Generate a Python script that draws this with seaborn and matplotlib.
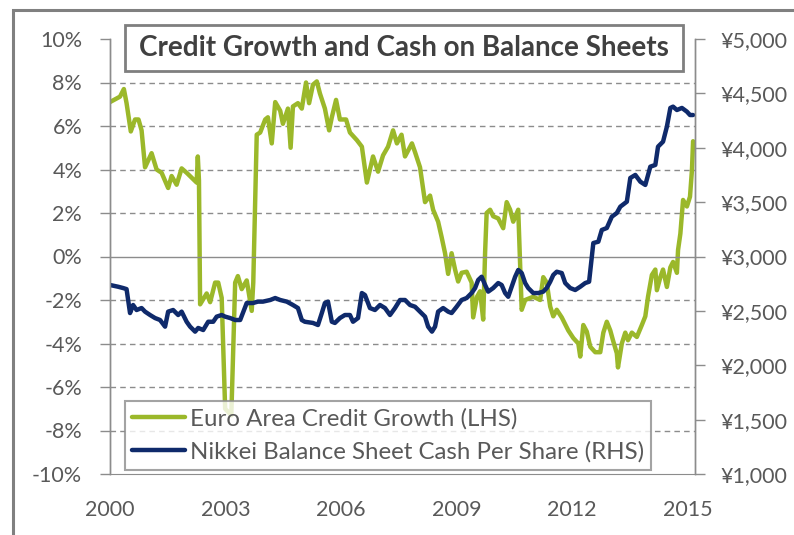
import matplotlib
matplotlib.use("Agg")
import matplotlib.pyplot as plt
import matplotlib.ticker as mticker
from matplotlib.lines import Line2D
from matplotlib.patches import Rectangle
import seaborn as sns
import pandas as pd

# Euro area credit growth (LHS, %)
euro_t = [2000.00, 2000.26, 2000.36, 2000.43, 2000.54, 2000.65, 2000.74, 2000.82, 2000.91,
          2001.08, 2001.21, 2001.34, 2001.51, 2001.60, 2001.73, 2001.86, 2001.99, 2002.25,
          2002.28, 2002.31, 2002.34, 2002.51, 2002.60, 2002.73, 2002.81, 2002.90, 2002.99,
          2003.15, 2003.25, 2003.32, 2003.42, 2003.55, 2003.68, 2003.72, 2003.81, 2003.90,
          2004.03, 2004.10, 2004.20, 2004.29, 2004.42, 2004.49, 2004.62, 2004.69, 2004.75,
          2004.88, 2004.98, 2005.09, 2005.17, 2005.27, 2005.37, 2005.45, 2005.58, 2005.69,
          2005.76, 2005.87, 2005.97, 2006.13, 2006.23, 2006.41, 2006.54, 2006.67, 2006.83,
          2006.96, 2007.09, 2007.22, 2007.35, 2007.45, 2007.57, 2007.66, 2007.84, 2007.92,
          2008.05, 2008.18, 2008.31, 2008.39, 2008.52, 2008.61, 2008.70, 2008.78, 2008.87,
          2008.96, 2009.04, 2009.13, 2009.26, 2009.39, 2009.43, 2009.53, 2009.61, 2009.69,
          2009.74, 2009.78, 2009.87, 2009.95, 2010.08, 2010.21, 2010.30, 2010.39, 2010.47,
          2010.60, 2010.69, 2010.78, 2010.99, 2011.17, 2011.25, 2011.34, 2011.43, 2011.51,
          2011.60, 2011.73, 2011.90, 2012.03, 2012.16, 2012.21, 2012.29, 2012.38, 2012.47,
          2012.60, 2012.73, 2012.81, 2012.90, 2012.99, 2013.06, 2013.16, 2013.19, 2013.29,
          2013.38, 2013.45, 2013.55, 2013.68, 2013.81, 2013.90, 2013.97, 2014.07, 2014.16,
          2014.20, 2014.29, 2014.36, 2014.46, 2014.55, 2014.62, 2014.72, 2014.75, 2014.81,
          2014.88, 2014.98, 2015.06, 2015.11, 2015.14]
euro_v = [7.1, 7.35, 7.7, 7.05, 5.75, 6.3, 6.3, 5.8, 4.1,
          4.75, 4.0, 3.85, 3.15, 3.7, 3.3, 4.05, 3.85, 3.4,
          4.6, 3.5, -2.2, -1.7, -2.1, -1.2, -1.2, -1.9, -7.0,
          -7.3, -1.2, -0.9, -1.5, -1.1, -2.5, -1.2, 5.6, 5.7,
          6.3, 6.4, 5.2, 7.1, 6.7, 6.1, 6.8, 5.0, 6.9,
          7.05, 6.8, 8.0, 7.05, 7.9, 8.05, 7.5, 6.8, 5.8,
          6.4, 7.2, 6.3, 6.3, 5.7, 5.35, 5.05, 3.4, 4.6,
          3.9, 4.65, 5.05, 5.8, 5.2, 5.6, 4.6, 5.2, 4.8,
          4.1, 2.5, 2.8, 2.15, 1.6, 0.9, 0.15, -0.8, 0.15,
          -0.6, -1.15, -0.75, -0.7, -1.2, -2.8, -1.85, -1.6, -2.9,
          0.2, 2.0, 2.15, 1.85, 1.75, 1.3, 2.5, 2.15, 1.6,
          2.15, -2.45, -2.0, -1.85, -2.0, -0.95, -1.2, -2.3, -2.75,
          -2.45, -2.8, -3.4, -3.75, -4.0, -4.6, -3.15, -3.45, -4.15,
          -4.4, -4.4, -3.5, -3.0, -3.4, -3.85, -4.45, -5.1, -4.0,
          -3.5, -3.85, -3.5, -3.7, -3.15, -2.75, -1.85, -0.85, -0.6,
          -1.55, -0.95, -0.6, -1.4, -0.5, -0.25, -0.75, 0.3, 1.05,
          2.6, 2.3, 2.75, 3.95, 5.3]

# Nikkei balance sheet cash per share (RHS, yen)
nikkei_t = [2000.00, 2000.21, 2000.34, 2000.43, 2000.52, 2000.60, 2000.69, 2000.82, 2000.91,
            2001.04, 2001.17, 2001.30, 2001.43, 2001.51, 2001.64, 2001.77, 2001.86, 2001.99,
            2002.08, 2002.21, 2002.29, 2002.42, 2002.55, 2002.68, 2002.77, 2002.90, 2002.99,
            2003.12, 2003.25, 2003.38, 2003.45, 2003.55, 2003.71, 2003.84, 2003.97, 2004.16,
            2004.29, 2004.42, 2004.59, 2004.75, 2004.88, 2004.98, 2005.06, 2005.27, 2005.40,
            2005.50, 2005.58, 2005.66, 2005.76, 2005.84, 2005.97, 2006.10, 2006.23, 2006.31,
            2006.44, 2006.54, 2006.62, 2006.75, 2006.88, 2007.01, 2007.14, 2007.27, 2007.40,
            2007.53, 2007.66, 2007.79, 2007.92, 2008.05, 2008.18, 2008.26, 2008.36, 2008.44,
            2008.52, 2008.65, 2008.78, 2008.87, 2009.00, 2009.13, 2009.26, 2009.39, 2009.48,
            2009.56, 2009.65, 2009.74, 2009.82, 2009.95, 2010.08, 2010.17, 2010.26, 2010.34,
            2010.43, 2010.52, 2010.60, 2010.69, 2010.78, 2010.86, 2010.99, 2011.12, 2011.25,
            2011.34, 2011.43, 2011.51, 2011.60, 2011.73, 2011.82, 2011.95, 2012.08, 2012.21,
            2012.34, 2012.44, 2012.55, 2012.68, 2012.77, 2012.90, 2013.03, 2013.16, 2013.25,
            2013.42, 2013.51, 2013.64, 2013.77, 2013.90, 2014.03, 2014.16, 2014.23, 2014.36,
            2014.46, 2014.55, 2014.62, 2014.72, 2014.85, 2014.98, 2015.06, 2015.14]
nikkei_v = [2738, 2722, 2710, 2700, 2480, 2554, 2508, 2526, 2493,
            2462, 2434, 2416, 2355, 2493, 2508, 2462, 2493, 2400,
            2355, 2309, 2343, 2324, 2400, 2400, 2447, 2462, 2447,
            2434, 2416, 2416, 2480, 2572, 2572, 2585, 2585, 2600,
            2618, 2600, 2585, 2554, 2526, 2416, 2400, 2389, 2370,
            2480, 2572, 2585, 2400, 2389, 2434, 2462, 2462, 2400,
            2434, 2664, 2646, 2526, 2508, 2554, 2526, 2462, 2526,
            2600, 2600, 2554, 2538, 2493, 2447, 2355, 2309, 2355,
            2493, 2526, 2493, 2480, 2538, 2600, 2618, 2664, 2710,
            2784, 2814, 2738, 2677, 2710, 2756, 2738, 2664, 2630,
            2722, 2814, 2876, 2848, 2756, 2710, 2664, 2664, 2677,
            2710, 2768, 2830, 2860, 2848, 2756, 2710, 2692, 2722,
            2756, 2768, 3124, 3136, 3244, 3262, 3366, 3400, 3458,
            3504, 3722, 3750, 3688, 3658, 3826, 3842, 4010, 4056,
            4194, 4366, 4378, 4347, 4366, 4332, 4301, 4301]

year_ticks = [2000, 2003, 2006, 2009, 2012, 2015]
title = "Credit Growth and Cash on Balance Sheets"
euro_label = "Euro Area Credit Growth (LHS)"
nikkei_label = "Nikkei Balance Sheet Cash Per Share (RHS)"

GREEN = "#9BB82A"
NAVY = "#0F2A6B"
TXT = "#595959"
AXC = "#8C8C8C"

sns.set_style("white")
plt.rcParams["font.family"] = ["Lato", "DejaVu Sans"]

euro = pd.DataFrame({"t": euro_t, "v": euro_v})
nikkei = pd.DataFrame({"t": nikkei_t, "v": nikkei_v})

fig = plt.figure(figsize=(7.94, 5.35), dpi=100)
ax = fig.add_axes([110 / 794, 61 / 535, 585 / 794, 435 / 535])
ax2 = ax.twinx()

sns.lineplot(data=euro, x="t", y="v", ax=ax, color=GREEN, lw=3.2, estimator=None, sort=False)
sns.lineplot(data=nikkei, x="t", y="v", ax=ax2, color=NAVY, lw=3.2, estimator=None, sort=False)

ax.set_xlim(2000, 2015.19)
ax.set_ylim(-10, 10)
ax2.set_ylim(1000, 5000)
ax.set_xlabel("")
ax.set_ylabel("")
ax2.set_ylabel("")

# left axis
ax.yaxis.set_major_locator(mticker.MultipleLocator(2))
ax.yaxis.set_major_formatter(mticker.FuncFormatter(lambda v, p: f"{v:.0f}%"))
ax.tick_params(axis="y", direction="out", length=7, width=1, color=AXC,
               labelsize=15.5, labelcolor=TXT, pad=13)

# right axis
ax2.yaxis.set_major_locator(mticker.MultipleLocator(500))
ax2.yaxis.set_major_formatter(mticker.FuncFormatter(lambda v, p: f"¥{v:,.0f}"))
ax2.tick_params(axis="y", direction="out", length=7, width=1, color=AXC,
                labelsize=15.5, labelcolor=TXT, pad=11)

# dashed gridlines, solid zero line
for v in ax.get_yticks():
    if -10 < v < 10 and v != 0:
        ax.axhline(v, color=AXC, lw=1, ls=(0, (4, 3)), zorder=0)

# category axis crosses at 0%, labels sit at the bottom
ax.set_xticks(year_ticks)
ax.spines["bottom"].set_position(("data", 0))
ax.tick_params(axis="x", direction="out", length=6, width=1, color=AXC, labelbottom=False)
sec = ax.secondary_xaxis("bottom")
sec.set_xticks(year_ticks)
sec.tick_params(length=0, labelsize=15.5, labelcolor=TXT, pad=19)
sec.spines["bottom"].set_color(AXC)

for a in (ax, ax2):
    a.spines["top"].set_visible(False)
    for s in ("left", "right", "bottom"):
        a.spines[s].set_color(AXC)
        a.spines[s].set_linewidth(1)
ax2.spines["bottom"].set_visible(False)

# legend
handles = [Line2D([], [], color=GREEN, lw=3.2), Line2D([], [], color=NAVY, lw=3.2)]
leg = ax2.legend(handles, [euro_label, nikkei_label], loc="lower left",
                 bbox_to_anchor=(15 / 585, 4 / 435), borderaxespad=0, frameon=True,
                 fancybox=False, fontsize=17.3, labelcolor=TXT, handlelength=2.2,
                 handletextpad=0.2, borderpad=0.3, labelspacing=0.5)
leg.get_frame().set_edgecolor(AXC)
leg.get_frame().set_linewidth(1.5)
leg.set_zorder(10)

# title box
fig.patches.append(Rectangle((125 / 794, 1 - 71 / 535), 558 / 794, 46 / 535,
                             transform=fig.transFigure, facecolor="white",
                             edgecolor="#7F7F7F", lw=2, zorder=5))
fig.text(404 / 794, 1 - 48 / 535, title, ha="center", va="center",
         fontsize=20, fontweight="bold", color="#404040", zorder=6)

# outer chart frame (cropped on right and bottom)
fig.patches.append(Rectangle((13 / 794, -0.1), 1.0, 1.1 - 10 / 535,
                             transform=fig.transFigure, facecolor="none",
                             edgecolor="#808080", lw=2.2, zorder=0))

fig.savefig("out.png", dpi=100)
